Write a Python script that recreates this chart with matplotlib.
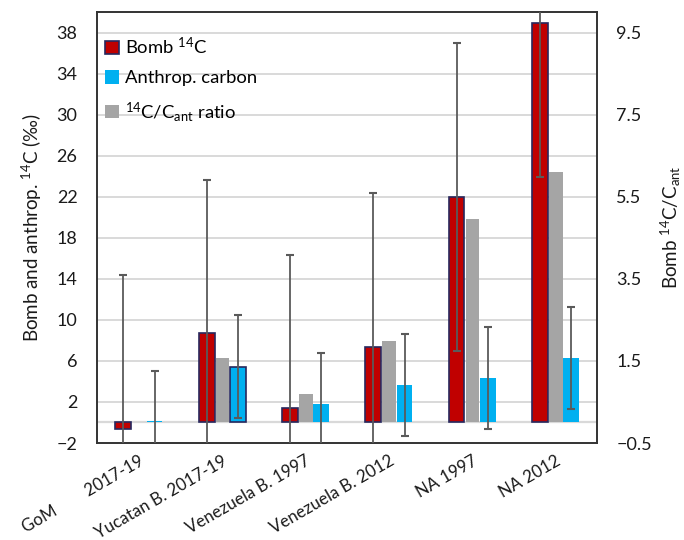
import numpy as np
import matplotlib
matplotlib.use("Agg")
import matplotlib.pyplot as plt
from matplotlib.patches import Patch

plt.rcParams['font.family'] = ['Lato', 'DejaVu Sans']
plt.rcParams['mathtext.fontset'] = 'custom'
plt.rcParams['mathtext.rm'] = 'Lato'
plt.rcParams['mathtext.it'] = 'Lato:italic'
plt.rcParams['mathtext.bf'] = 'Lato:bold'

categories = ["GoM        2017-19", "Yucatan B. 2017-19", "Venezuela B. 1997",
              "Venezuela B. 2012", "NA 1997", "NA 2012"]
bomb = [-0.6, 8.7, 1.4, 7.4, 22.0, 38.9]
bomb_err = [15.0, 14.9, 14.9, 15.0, 15.0, 15.0]
anth = [0.15, 5.45, 1.8, 3.65, 4.35, 6.3]
anth_err = [4.9, 5.0, 5.0, 5.0, 5.0, 5.0]
ratio = [np.nan, 1.57, 0.69, 1.99, 4.96, 6.09]
left_ticks = [-2, 2, 6, 10, 14, 18, 22, 26, 30, 34, 38]
right_ticks = [-0.5, 1.5, 3.5, 5.5, 7.5, 9.5]

RED = '#C00000'
RED_EDGE = '#27285E'
BLUE = '#00B0F0'
GRAY = '#A5A5A5'
ERR = '#5A5A5A'
GRID = '#D9D9D9'
TXT = '#1A1A1A'

fig = plt.figure(figsize=(6.84, 5.40), dpi=100)
ax = fig.add_axes([97/684, 1-443/540, 500/684, 431/540])
ax2 = ax.twinx()

x = np.arange(len(categories))
w = 0.19

ax.set_xlim(-0.5, len(categories)-0.5)
ax.set_ylim(-2, 40)
ax2.set_ylim(-0.5, 10)

for t in left_ticks[1:]:
    ax.axhline(t, color=GRID, lw=1.4, zorder=0)
ax.axhline(0, color=GRID, lw=1.6, zorder=0)

blue_edges = ['none', RED_EDGE, 'none', 'none', 'none', 'none']
ax.bar(x - 0.185, bomb, w, color=RED, edgecolor=RED_EDGE, linewidth=1.2, zorder=2)
ax.bar(x + 0.19, anth, w, color=BLUE, edgecolor=blue_edges, linewidth=1.2, zorder=2)
ax2.bar(x + 0.005, ratio, 0.165, color=GRAY, zorder=2)

ax2.errorbar(x - 0.185, bomb, yerr=bomb_err, fmt='none', ecolor=ERR, elinewidth=1.3,
             capsize=2.8, capthick=1.5, zorder=5, transform=ax.transData)
ax2.errorbar(x + 0.19, anth, yerr=anth_err, fmt='none', ecolor=ERR, elinewidth=1.3,
             capsize=2.8, capthick=1.5, zorder=5, transform=ax.transData)

ax.set_yticks(left_ticks)
ax2.set_yticks(right_ticks)
ax2.set_yticklabels([f"{v:.1f}".replace('-', '\u2212') for v in right_ticks])
ax.set_xticks(x)
ax.set_xticklabels(categories, rotation=30, ha='right', va='top', rotation_mode='anchor')

ax.tick_params(axis='y', length=0, pad=14, labelsize=13, labelcolor=TXT)
ax2.tick_params(axis='y', length=0, pad=14, labelsize=13, labelcolor=TXT)
ax.tick_params(axis='x', length=0, pad=7, labelsize=12.2, labelcolor=TXT)

for a in (ax, ax2):
    for s in a.spines.values():
        s.set_color('#333333')
        s.set_linewidth(1.2)

ax.set_ylabel("Bomb and anthrop. $^{14}$C (\u2030)", fontsize=13.5, color=TXT, labelpad=9)
ax2.set_ylabel("Bomb $^{14}$C/C$_{\\mathrm{ant}}$", fontsize=13.5, color=TXT, labelpad=5)

handles = [Patch(facecolor=RED, edgecolor=RED_EDGE, linewidth=1.2),
           Patch(facecolor=BLUE, edgecolor='none'),
           Patch(facecolor=GRAY, edgecolor='none')]
labels = ["Bomb $^{14}$C", "Anthrop. carbon", "$^{14}$C/C$_{\\mathrm{ant}}$ ratio"]
ax2.legend(handles, labels, loc='upper left', bbox_to_anchor=(0.016, 0.945),
           frameon=False, fontsize=13.3, handlelength=0.75, handleheight=0.75,
           handletextpad=0.35, labelspacing=0.72, borderpad=0, borderaxespad=0)

fig.savefig("out.png", dpi=100)
